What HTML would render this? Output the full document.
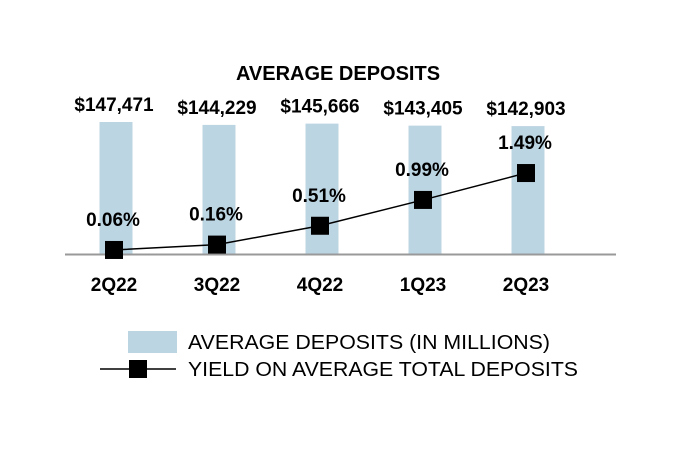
<!DOCTYPE html>
<html><head><meta charset="utf-8"><style>
body{margin:0;background:#fff;font-family:"Liberation Sans",Arial,sans-serif}
svg text{font-family:"Liberation Sans",Arial,sans-serif}
</style></head><body>
<svg id="c" width="680" height="452" xmlns="http://www.w3.org/2000/svg">
<text x="338" y="80" text-anchor="middle" font-size="20" font-weight="bold">AVERAGE DEPOSITS</text>
<g id="bars"></g>
<line x1="65" y1="254.5" x2="616" y2="254.5" stroke="#999" stroke-width="2"/>
<g id="line"></g>
<g>
<rect x="128" y="331" width="49" height="22" fill="#bcd5e2"/>
<text x="188" y="349" font-size="20" textLength="362" lengthAdjust="spacingAndGlyphs">AVERAGE DEPOSITS (IN MILLIONS)</text>
<line x1="100" y1="369" x2="176" y2="369" stroke="#000" stroke-width="1.5"/>
<rect x="129" y="360" width="18" height="18" fill="#000"/>
<text x="188" y="376" font-size="20" textLength="390" lengthAdjust="spacingAndGlyphs">YIELD ON AVERAGE TOTAL DEPOSITS</text>
</g>
</svg>
<script>
const categories=["2Q22","3Q22","4Q22","1Q23","2Q23"];
const deposits=[147471,144229,145666,143405,142903];
const depositLabels=["$147,471","$144,229","$145,666","$143,405","$142,903"];
const yields=[0.06,0.16,0.51,0.99,1.49];
const yieldLabels=["0.06%","0.16%","0.51%","0.99%","1.49%"];
const NS="http://www.w3.org/2000/svg";
const x0=116, step=103, base=254;
const xs=i=>x0+i*step;
const yBar=v=>base-v*132/147471;
const yLine=v=>253.2-v*53.8;
function mk(t,a,p){const e=document.createElementNS(NS,t);for(const k in a)e.setAttribute(k,a[k]);p.appendChild(e);return e;}
const gb=document.getElementById('bars'), gl=document.getElementById('line');
categories.forEach((c,i)=>{
  const top=yBar(deposits[i]);
  const r=mk('rect',{x:xs(i)-16.5,y:top,width:33,height:base-top,fill:'#bcd5e2'},gb);
  
  
  const t=mk('text',{x:xs(i)-2,y:top-11,'text-anchor':'middle','font-size':'19','font-weight':'bold'},gb);
  t.textContent=depositLabels[i];
  
  
  const ct=mk('text',{x:xs(i)-2,y:291,'text-anchor':'middle','font-size':'19','font-weight':'bold'},gb);
  ct.textContent=c;
  
  
});
const pts=yields.map((v,i)=>(xs(i)-2)+','+yLine(v)).join(' ');
const pl=mk('polyline',{points:pts,fill:'none',stroke:'#000','stroke-width':'1.5'},gl);


yields.forEach((v,i)=>{
  const cx=xs(i)-2, cy=yLine(v);
  const m=mk('rect',{x:cx-9,y:cy-9,width:18,height:18,fill:'#000'},gl);
  
  
  const t=mk('text',{x:cx-1,y:cy-24,'text-anchor':'middle','font-size':'19','font-weight':'bold'},gl);
  t.textContent=yieldLabels[i];
  
  
});
</script>
</body></html>
